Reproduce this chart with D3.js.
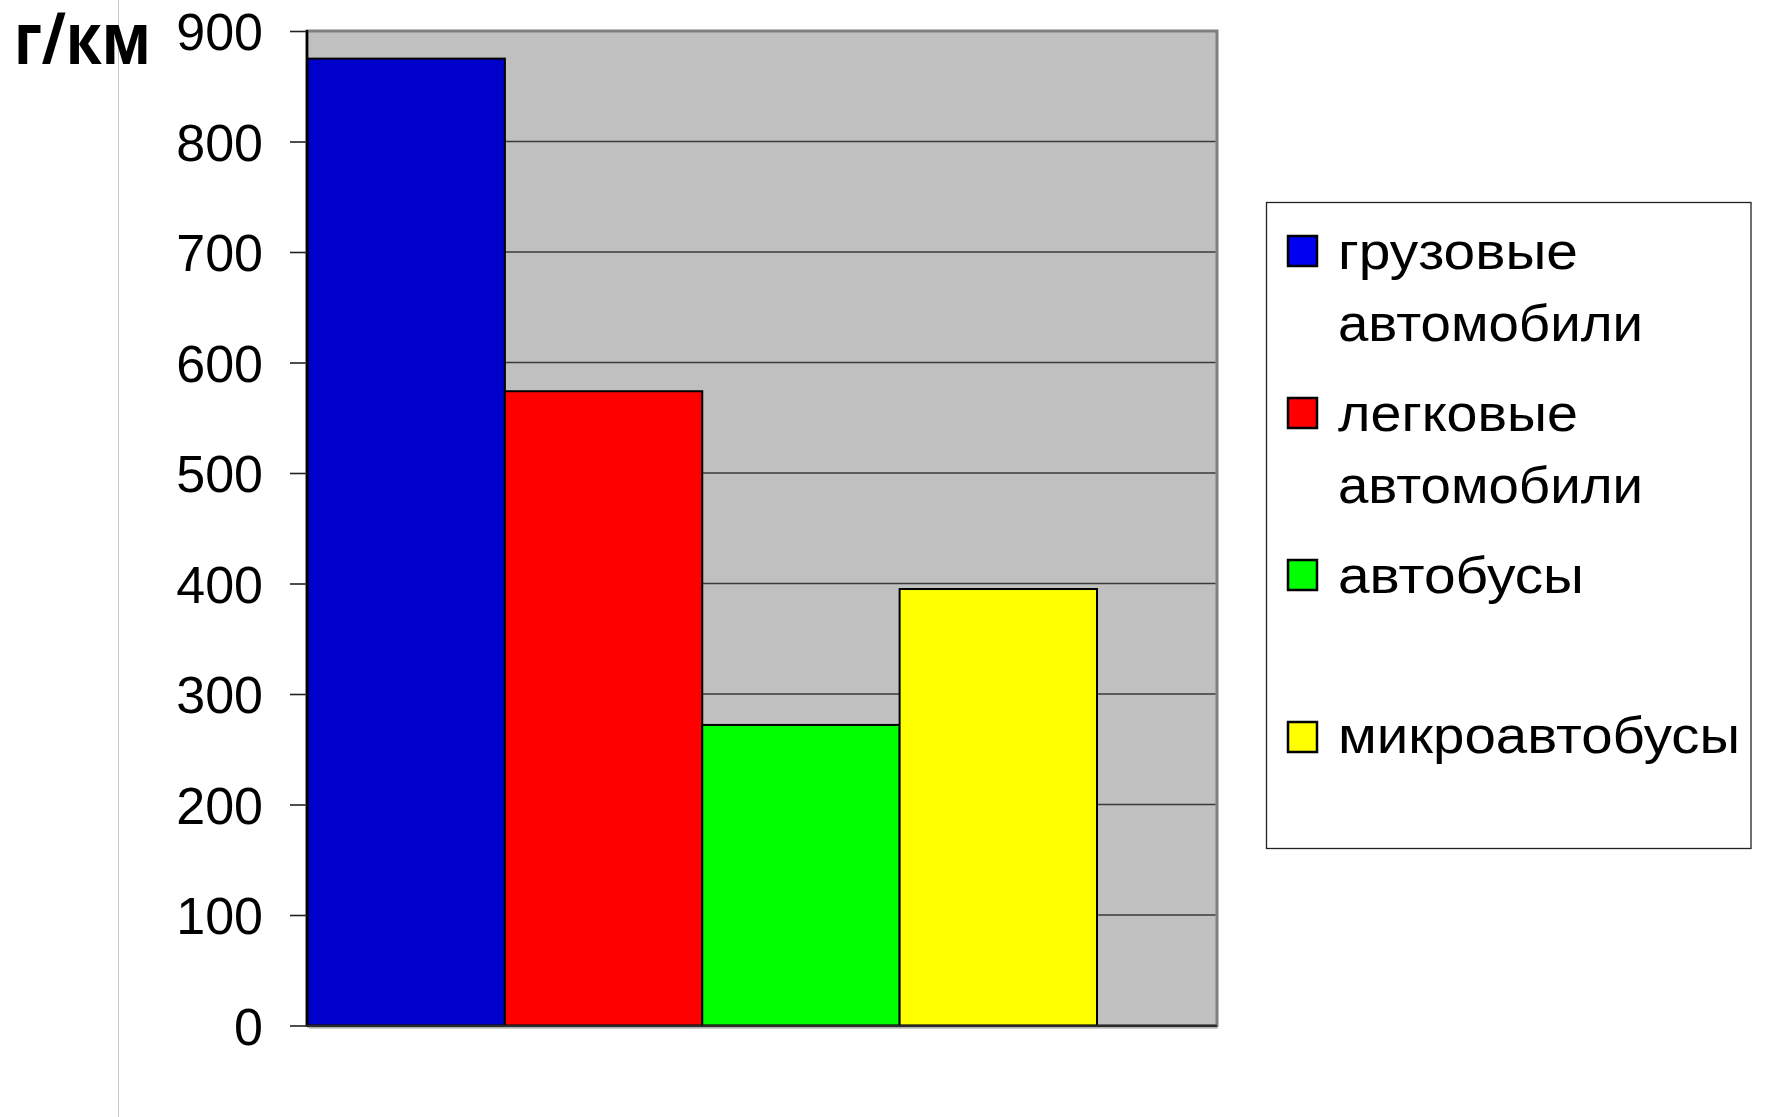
<!DOCTYPE html>
<html>
<head>
<meta charset="utf-8">
<script src="https://cdn.jsdelivr.net/npm/d3@7"></script>
<style>
  html, body { margin: 0; padding: 0; background: #ffffff; }
  svg { display: block; }
</style>
</head>
<body>
<svg id="chart" width="1767" height="1117"></svg>
<script>
// ---- data ----
const series = ["грузовые автомобили", "легковые автомобили", "автобусы", "микроавтобусы"];
const legendLines = [["грузовые", "автомобили"], ["легковые", "автомобили"], ["автобусы"], ["микроавтобусы"]];
const values = [875, 574, 272, 395];
const colors = ["#0000CC", "#FF0000", "#00FF00", "#FFFF00"];
const legendColors = ["#0000F0", "#FF0000", "#00FF00", "#FFFF00"];
const yTicks = [0, 100, 200, 300, 400, 500, 600, 700, 800, 900];
const unitLabel = "г/км";

// ---- layout ----
const svg = d3.select("#chart");
const plot = { left: 307, right: 1217, top: 31, bottom: 1025.5 };
const y = d3.scaleLinear().domain([0, 900]).range([plot.bottom, plot.top]);
const x = d3.scaleBand().domain(series).range([307.5, 1097]).padding(0);

// faint vertical line at the left
svg.append("line")
  .attr("x1", 118.5).attr("x2", 118.5).attr("y1", 0).attr("y2", 1117)
  .attr("stroke", "#c8c8c8").attr("stroke-width", 1);

// plot area background
svg.append("rect")
  .attr("x", plot.left).attr("y", plot.top)
  .attr("width", plot.right - plot.left).attr("height", plot.bottom - plot.top)
  .attr("fill", "#c0c0c0")
  .attr("stroke", "#808080").attr("stroke-width", 3);

// gridlines
svg.append("g")
  .selectAll("line")
  .data(yTicks.filter(d => d > 0 && d < 900))
  .join("line")
  .attr("x1", plot.left).attr("x2", plot.right - 1.5)
  .attr("y1", d => y(d)).attr("y2", d => y(d))
  .attr("stroke", "#3a3a3a").attr("stroke-width", 1.3);

// bars
svg.append("g")
  .selectAll("rect")
  .data(values)
  .join("rect")
  .attr("x", (d, i) => x(series[i]))
  .attr("y", d => y(d))
  .attr("width", x.bandwidth())
  .attr("height", d => y(0) - y(d))
  .attr("fill", (d, i) => colors[i])
  .attr("stroke", "#000").attr("stroke-width", 2);

// y axis
const yAxis = d3.axisLeft(y).tickValues(yTicks).tickSize(17).tickPadding(27).tickFormat(d3.format("d"));
const gy = svg.append("g").attr("transform", `translate(${plot.left},0)`).call(yAxis);
gy.select(".domain").attr("stroke", "#000").attr("stroke-width", 2.5)
  .attr("d", `M0,${plot.top - 1}V${plot.bottom}`);
gy.selectAll(".tick line").attr("stroke", "#222").attr("stroke-width", 1.6);
gy.selectAll(".tick text")
  .attr("font-family", "'Liberation Sans', Arial, sans-serif")
  .attr("font-size", 52)
  .attr("fill", "#000")
  .attr("dy", "0.36em");

// x axis baseline
svg.append("line")
  .attr("x1", plot.left).attr("x2", plot.right)
  .attr("y1", plot.bottom + 0.5).attr("y2", plot.bottom + 0.5)
  .attr("stroke", "#2a2a2a").attr("stroke-width", 2.6);
svg.append("line")
  .attr("x1", plot.left + 2).attr("x2", plot.right + 1)
  .attr("y1", plot.bottom + 2.5).attr("y2", plot.bottom + 2.5)
  .attr("stroke", "#9a9a9a").attr("stroke-width", 1.2);

// unit label
svg.append("text")
  .attr("x", 14).attr("y", 64)
  .attr("font-family", "'Open Sans', 'Noto Sans', sans-serif")
  .attr("font-weight", "bold")
  .attr("font-size", 72)
  .attr("textLength", 137).attr("lengthAdjust", "spacingAndGlyphs")
  .attr("fill", "#000")
  .text(unitLabel);

// legend
const legend = svg.append("g");
legend.append("rect")
  .attr("x", 1266.5).attr("y", 202.5)
  .attr("width", 484.5).attr("height", 646)
  .attr("fill", "#fff").attr("stroke", "#222").attr("stroke-width", 1.3);

const markerTops = [236, 398, 560, 722];
const lineBaselines = [[269, 340.5], [431, 503], [593], [753]];
const lineWidths = { "грузовые": 240, "автомобили": 305, "легковые": 240, "автобусы": 246, "микроавтобусы": 402 };

series.forEach((s, i) => {
  legend.append("rect")
    .attr("x", 1288).attr("y", markerTops[i])
    .attr("width", 29).attr("height", 30)
    .attr("fill", legendColors[i]).attr("stroke", "#000").attr("stroke-width", 2.5);
  legendLines[i].forEach((ln, j) => {
    legend.append("text")
      .attr("x", 1338).attr("y", lineBaselines[i][j])
      .attr("font-family", "'Liberation Sans', Arial, sans-serif")
      .attr("font-size", 52)
      .attr("textLength", lineWidths[ln]).attr("lengthAdjust", "spacingAndGlyphs")
      .attr("fill", "#000")
      .text(ln);
  });
});
</script>
</body>
</html>
